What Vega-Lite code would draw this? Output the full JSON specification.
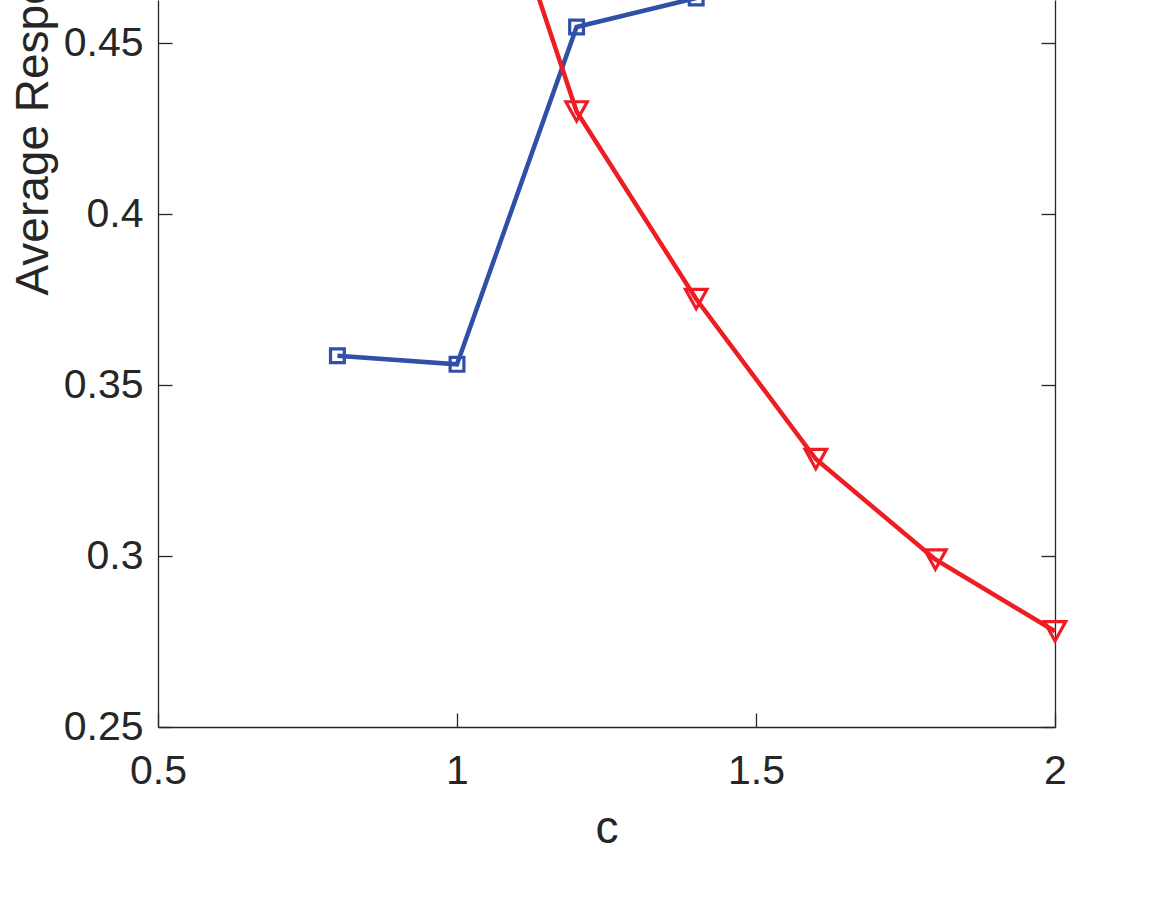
{
  "$schema": "https://vega.github.io/schema/vega-lite/v6.json",
  "autosize": {"type": "none"},
  "padding": {"left": 158, "top": 0, "right": 111, "bottom": 185},
  "width": 897,
  "height": 727,
  "background": "white",
  "config": {
    "view": {"stroke": null},
    "axis": {
      "grid": false,
      "domainColor": "#262626",
      "domainWidth": 1.3,
      "tickColor": "#262626",
      "tickWidth": 1.3,
      "tickSize": -14,
      "labelFont": "Liberation Sans",
      "labelFontSize": 41,
      "labelColor": "#262626",
      "labelFlush": false,
      "labelOverlap": false,
      "titleFont": "Liberation Sans",
      "titleFontSize": 46,
      "titleFontWeight": "normal",
      "titleColor": "#262626"
    }
  },
  "data": {
    "values": [
      {"c": 0.8, "v": 0.3586, "series": "Series 1"},
      {"c": 1.0, "v": 0.3561, "series": "Series 1"},
      {"c": 1.2, "v": 0.4548, "series": "Series 1"},
      {"c": 1.4, "v": 0.4633, "series": "Series 1"},
      {"c": 1.0, "v": 0.535, "series": "Series 2"},
      {"c": 1.2, "v": 0.4301, "series": "Series 2"},
      {"c": 1.4, "v": 0.3752, "series": "Series 2"},
      {"c": 1.6, "v": 0.3284, "series": "Series 2"},
      {"c": 1.8, "v": 0.2990, "series": "Series 2"},
      {"c": 2.0, "v": 0.2780, "series": "Series 2"}
    ]
  },
  "layer": [
    {
      "mark": {"type": "line", "strokeWidth": 4.5},
      "encoding": {
        "x": {
          "field": "c", "type": "quantitative",
          "scale": {"domain": [0.5, 2], "nice": false, "zero": false},
          "axis": {
            "orient": "bottom",
            "values": [0.5, 1, 1.5, 2],
            "format": ".1~f",
            "labelBaseline": "alphabetic",
            "labelPadding": 70,
            "title": "c",
            "titleX": 448.5,
            "titleY": 115,
            "titleAlign": "center",
            "titleBaseline": "alphabetic"
          }
        },
        "y": {
          "field": "v", "type": "quantitative",
          "scale": {"domain": [0.25, 0.4627], "nice": false, "zero": false},
          "axis": {
            "orient": "left",
            "values": [0.25, 0.3, 0.35, 0.4, 0.45],
            "format": ".2~f",
            "labelPadding": 29,
            "title": "Average Response Time",
            "titleAngle": 270,
            "titleAlign": "left",
            "titleBaseline": "alphabetic",
            "titleX": -111,
            "titleY": 295
          }
        },
        "color": {
          "field": "series", "type": "nominal",
          "scale": {"domain": ["Series 1", "Series 2"], "range": ["#3050A8", "#EE1D24"]},
          "legend": null
        }
      }
    },
    {
      "transform": [{"filter": "datum.series === 'Series 1'"}],
      "mark": {"type": "point", "shape": "square", "size": 190, "strokeWidth": 3.2, "color": "#3050A8", "filled": false, "opacity": 1},
      "encoding": {
        "x": {"field": "c", "type": "quantitative"},
        "y": {
          "field": "v", "type": "quantitative",
          "axis": {
            "orient": "right",
            "values": [0.25, 0.3, 0.35, 0.4, 0.45],
            "labels": false,
            "title": null
          }
        }
      }
    },
    {
      "transform": [{"filter": "datum.series === 'Series 2'"}],
      "mark": {"type": "point", "shape": "M-1,-0.9L1,-0.9L0,0.9Z", "size": 460, "strokeWidth": 3.2, "color": "#EE1D24", "filled": false, "opacity": 1},
      "encoding": {
        "x": {"field": "c", "type": "quantitative"},
        "y": {"field": "v", "type": "quantitative", "axis": null}
      }
    }
  ],
  "resolve": {"axis": {"y": "independent"}}
}
